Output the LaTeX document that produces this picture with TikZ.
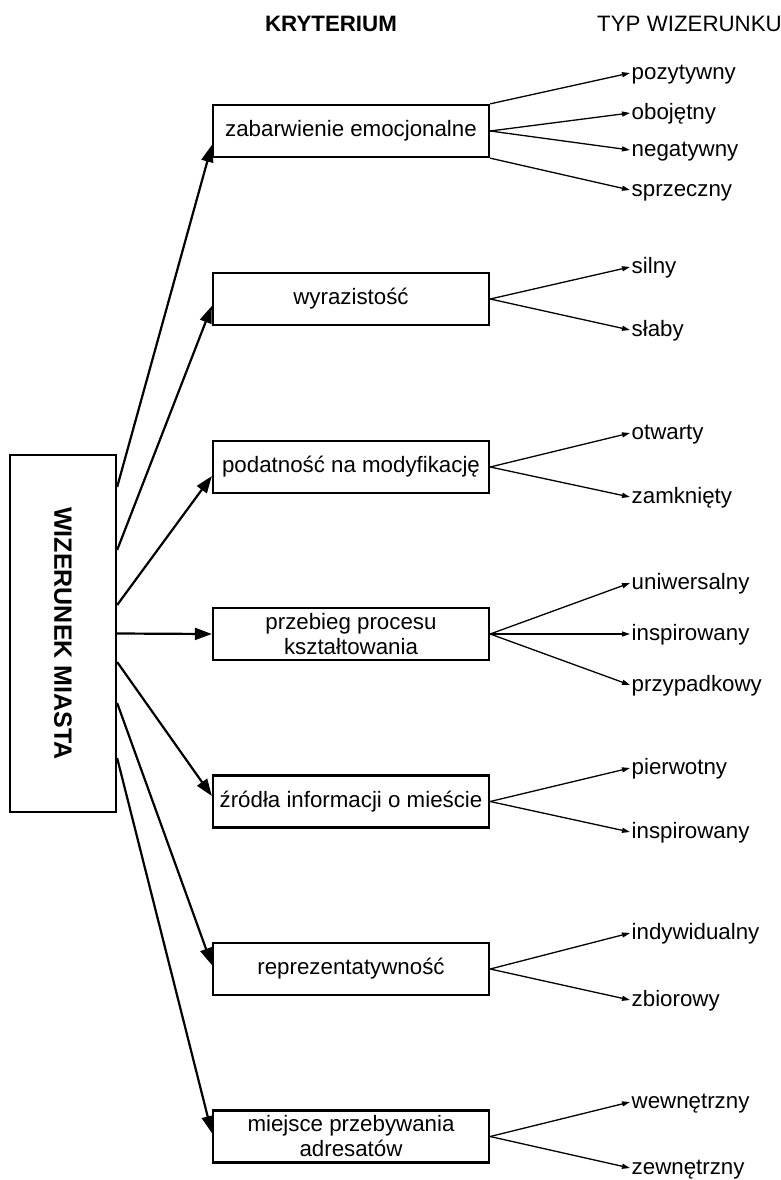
\documentclass[tikz,border=0pt]{standalone}
\usepackage{fontspec}
\setmainfont{Liberation Sans}
\usetikzlibrary{arrows.meta}
\begin{document}
\begin{tikzpicture}[x=1pt,y=-1pt,
  txt/.style={font=\fontsize{22.3}{25}\selectfont},
  crit/.style={txt, draw, line width=2.3pt, minimum width=276pt, minimum height=52pt, inner sep=0pt, align=center},
  typ/.style={txt, anchor=west, inner xsep=1.5pt, inner ysep=0pt, text height=15.5pt, text depth=2.4pt},
  bigarrow/.style={line width=2.2pt, -{Triangle[length=17pt,width=12pt]}},
  smallarrow/.style={line width=1.3pt, -{Triangle[length=8pt,width=5pt]}},
  head/.style={inner sep=0pt}
]
\useasboundingbox (0,0) rectangle (780,1180);

% headers
\node[head, anchor=base, font=\bfseries\fontsize{22.3}{25}\selectfont] (hk) at (331,32) {KRYTERIUM};
\node[head, anchor=base west, txt] (ht) at (597,32) {TYP WIZERUNKU};

% main box
\node[draw, line width=2.3pt, minimum width=106pt, minimum height=357pt, inner sep=0pt] (main) at (63,633.5) {};
\node[rotate=-90, inner sep=0pt, font=\bfseries\fontsize{25}{30}\selectfont] (maintext) at (main.center) {WIZERUNEK MIASTA};

% criteria
\node[crit] (k1) at (351,131) {zabarwienie emocjonalne};
\node[crit] (k2) at (351,299) {wyrazistość};
\node[crit] (k3) at (351,467) {podatność na modyfikację};
\node[crit] (k4) at (351,634) {przebieg procesu\\kształtowania};
\node[crit] (k5) at (351,801.5) {źródła informacji o mieście};
\node[crit] (k6) at (351,969) {reprezentatywność};
\node[crit] (k7) at (351,1136.5) {miejsce przebywania\\adresatów};

% main arrows
\draw[bigarrow] ([yshift=146.5pt]main.east) -- ([yshift=-14pt]k1.west);
\draw[bigarrow] ([yshift=83.5pt]main.east) -- ([yshift=-7pt]k2.west);
\draw[bigarrow] ([yshift=28.5pt]main.east) -- ([yshift=-9pt]k3.west);
\draw[bigarrow] (main.east) -- (k4.west);
\draw[bigarrow] ([yshift=-28.5pt]main.east) -- ([yshift=5.5pt]k5.west);
\draw[bigarrow] ([yshift=-69.5pt]main.east) -- ([yshift=4pt]k6.west);
\draw[bigarrow] ([yshift=-124.5pt]main.east) -- ([yshift=3.5pt]k7.west);

% types
\node[typ] (t11) at (630,73) {pozytywny};
\node[typ] (t12) at (630,113) {obojętny};
\node[typ] (t13) at (630,150) {negatywny};
\node[typ] (t14) at (630,190) {sprzeczny};
\node[typ] (t21) at (630,267) {silny};
\node[typ] (t22) at (630,330) {słaby};
\node[typ] (t31) at (630,433) {otwarty};
\node[typ] (t32) at (630,497) {zamknięty};
\node[typ] (t41) at (630,583) {uniwersalny};
\node[typ] (t42) at (630,634) {inspirowany};
\node[typ] (t43) at (630,685) {przypadkowy};
\node[typ] (t51) at (630,768) {pierwotny};
\node[typ] (t52) at (630,832) {inspirowany};
\node[typ] (t61) at (630,933) {indywidualny};
\node[typ] (t62) at (630,1000) {zbiorowy};
\node[typ] (t71) at (630,1102) {wewnętrzny};
\node[typ] (t72) at (630,1168) {zewnętrzny};

% small arrows
\draw[smallarrow] (k1.north east) -- (t11.west);
\draw[smallarrow] (k1.east) -- (t12.west);
\draw[smallarrow] (k1.east) -- (t13.west);
\draw[smallarrow] (k1.south east) -- (t14.west);
\draw[smallarrow] (k2.east) -- (t21.west);
\draw[smallarrow] (k2.east) -- (t22.west);
\draw[smallarrow] (k3.east) -- (t31.west);
\draw[smallarrow] (k3.east) -- (t32.west);
\draw[smallarrow] (k4.east) -- (t41.west);
\draw[smallarrow] (k4.east) -- (t42.west);
\draw[smallarrow] (k4.east) -- (t43.west);
\draw[smallarrow] (k5.east) -- (t51.west);
\draw[smallarrow] (k5.east) -- (t52.west);
\draw[smallarrow] (k6.east) -- (t61.west);
\draw[smallarrow] (k6.east) -- (t62.west);
\draw[smallarrow] (k7.east) -- (t71.west);
\draw[smallarrow] (k7.east) -- (t72.west);
\end{tikzpicture}
\end{document}
